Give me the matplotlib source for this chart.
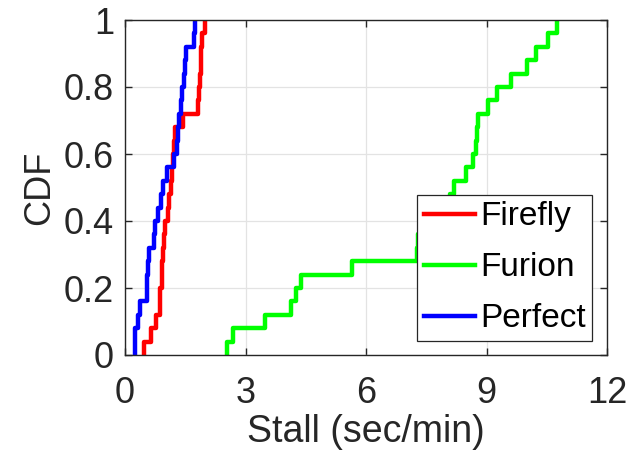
import numpy as np
import matplotlib
matplotlib.use('Agg')
import matplotlib.pyplot as plt

# stall samples (sec/min), 25 sessions per scheme
firefly = [0.48, 0.65, 0.77, 0.86, 0.88, 0.91, 0.93, 0.95, 0.97, 0.99,
           1.08, 1.10, 1.14, 1.16, 1.20, 1.22, 1.24, 1.45, 1.82, 1.84,
           1.86, 1.88, 1.90, 1.92, 1.99]
furion = [2.53, 2.69, 3.48, 4.13, 4.25, 4.38, 5.66, 7.26, 7.30, 7.60,
          7.90, 8.10, 8.19, 8.50, 8.66, 8.74, 8.77, 8.80, 9.04, 9.27,
          9.62, 10.02, 10.22, 10.53, 10.75]
perfect = [0.25, 0.25, 0.32, 0.37, 0.54, 0.56, 0.58, 0.60, 0.72, 0.75,
           0.83, 0.90, 0.95, 1.04, 1.23, 1.29, 1.32, 1.34, 1.40, 1.42,
           1.47, 1.49, 1.51, 1.72, 1.74]

series = [('Firefly', firefly, '#ff0000'),
          ('Furion', furion, '#00ff00'),
          ('Perfect', perfect, '#0000ff')]

plt.rcParams['font.family'] = ['Liberation Sans', 'DejaVu Sans']

fig = plt.figure(figsize=(6.27, 4.58), dpi=100)
ax = fig.add_axes([125 / 627, 1 - 355 / 458, 482 / 627, 335 / 458])

for nome, valores, cor in series:
    x = np.sort(np.array(valores))
    y = np.arange(1, len(x) + 1) / len(x)
    x = np.concatenate([[x[0]], x])
    y = np.concatenate([[0], y])
    ax.step(x, y, where='post', color=cor, lw=3.2, label=nome)

ax.set_xlim(0, 12)
ax.set_ylim(0, 1)
ax.set_xticks([0, 3, 6, 9, 12])
ax.set_yticks([0, 0.2, 0.4, 0.6, 0.8, 1])
ax.set_yticklabels(['0', '0.2', '0.4', '0.6', '0.8', '1'])
ax.grid(True, color='#e3e3e3', lw=0.9)
ax.set_axisbelow(True)

cinza = '#262626'
for s in ax.spines.values():
    s.set_color(cinza)
    s.set_linewidth(1.0)
ax.tick_params(direction='in', length=5, width=1.0, colors=cinza,
               labelsize=26, top=True, right=True, pad=8)
ax.tick_params(axis='x', pad=15)
ax.set_xlabel('Stall (sec/min)', fontsize=27, color=cinza, labelpad=2)
ax.set_ylabel('CDF', fontsize=26, color=cinza, labelpad=5)

leg = ax.legend(loc='lower right', bbox_to_anchor=(0.969, 0.042),
                borderaxespad=0, fontsize=24, fancybox=False,
                handlelength=1.53, handletextpad=0.15, labelspacing=0.6,
                borderpad=0.2, framealpha=1)
leg.get_frame().set_edgecolor(cinza)
leg.get_frame().set_linewidth(0.9)

fig.savefig('out.png', dpi=100)
